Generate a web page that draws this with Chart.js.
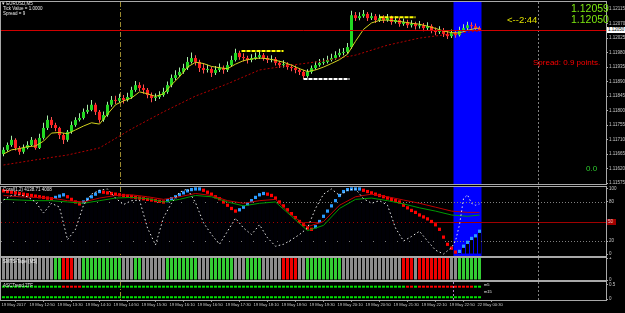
<!DOCTYPE html>
<html>
<head>
<meta charset="utf-8">
<title>EURUSD,M5</title>
<script src="https://cdn.jsdelivr.net/npm/chart.js@4.4.1/dist/chart.umd.min.js"></script>
<style>
  html, body { margin: 0; padding: 0; background: #000; }
  #wrap { position: relative; width: 625px; height: 313px; overflow: hidden; background: #000;
          font-family: "Liberation Sans", Arial, sans-serif; }
  #wrap canvas { position: absolute; left: 0; }
  .lbl { position: absolute; white-space: nowrap; line-height: 1; }
  .tag { position: absolute; left: 607px; width: 18px; height: 6px; font-size: 4.5px; line-height: 6px; padding-left: 1px; }
</style>
</head>
<body>
<div id="wrap">
  <canvas id="mainChart" width="625" height="186" style="top:0px"></canvas>
  <canvas id="oscChart" width="625" height="71" style="top:186px"></canvas>
  <canvas id="tapeChart" width="625" height="24" style="top:257px"></canvas>
  <canvas id="ascChart" width="625" height="32" style="top:281px"></canvas>

  <div class="lbl" style="left:2px;top:2.4px;font-size:4.5px;color:#e8e8e8">▾ EURUSD,M5</div>
  <div class="lbl" style="left:3px;top:7.4px;font-size:4.5px;color:#e8e8e8">Tick Value = 1.0000</div>
  <div class="lbl" style="left:3px;top:12.4px;font-size:4.5px;color:#e8e8e8">Spread = 9</div>

  <div class="lbl" style="left:571px;top:2.6px;font-size:10.5px;color:#7ce80f">1.12059</div>
  <div class="lbl" style="left:571px;top:14.4px;font-size:10.5px;color:#7ce80f">1.12050</div>
  <div class="lbl" style="left:507px;top:14.5px;font-size:9.5px;color:#e0e000">&lt;--2:44</div>
  <div class="lbl" style="left:533px;top:59px;font-size:8px;color:#ff0000">Spread: 0.9 points.</div>
  <div class="lbl" style="left:586px;top:165px;font-size:8px;color:#2ecc2e">0.0</div>

  <div class="lbl" style="left:3px;top:187.5px;font-size:4.5px;color:#e8e8e8">Coral(1,2) 4138.71 4008</div>
  <div class="lbl" style="left:3px;top:259.5px;font-size:4.5px;color:#f0f0f0">SMTS-Tape (M5)</div>
  <div class="lbl" style="left:3px;top:283.5px;font-size:4.5px;color:#e8e8e8">ASCTrend 2TF</div>
  <div class="lbl" style="left:484px;top:282.5px;font-size:4px;color:#e8e8e8">m5</div>
  <div class="lbl" style="left:484px;top:289.5px;font-size:4px;color:#e8e8e8">m15</div>

  <div class="tag" id="bidTag" style="top:26px;background:#ffffff;color:#000">1.12050</div>
  <div class="tag" id="midTag" style="top:219px;width:8px;background:#a00000;color:#ffc8c8">50</div>
</div>

<script>
// ---------- price data (EURUSD M5) ----------
const opens = [
  1.11665,1.11678,1.11693,1.11709,1.11684,1.11672,1.11684,1.11693,1.11709,1.11684,
  1.11715,1.11746,1.11771,1.11755,1.11746,1.11724,1.11709,1.11734,1.11755,1.11771,
  1.11777,1.11796,1.11802,1.11818,1.11796,1.11771,1.11786,1.11818,1.11833,1.11830,
  1.11839,1.11833,1.11842,1.11864,1.11879,1.11870,1.11864,1.11848,1.11839,1.11842,
  1.11848,1.11858,1.11879,1.11901,1.11910,1.11920,1.11932,1.11951,1.11963,1.11951,
  1.11932,1.11926,1.11929,1.11917,1.11926,1.11932,1.11926,1.11941,1.11957,1.11979,
  1.11966,1.11963,1.11957,1.11963,1.11966,1.11972,1.11963,1.11957,1.11960,1.11948,
  1.11941,1.11944,1.11935,1.11932,1.11926,1.11920,1.11907,1.11920,1.11932,1.11941,
  1.11948,1.11951,1.11957,1.11963,1.11972,1.11979,1.11982,1.11997,1.12096,1.12087,
  1.12093,1.12100,1.12087,1.12093,1.12081,1.12087,1.12081,1.12087,1.12075,1.12081,
  1.12069,1.12075,1.12065,1.12069,1.12062,1.12065,1.12056,1.12062,1.12050,1.12044,
  1.12050,1.12038,1.12031,1.12041,1.12034,1.12050,1.12056,1.12065,1.12062,1.12056
];
const highs = [
  1.11686,1.11701,1.11722,1.11714,1.11690,1.11695,1.11705,1.11718,1.11713,1.11728,
  1.11762,1.11785,1.11780,1.11762,1.11750,1.11730,1.11740,1.11766,1.11779,1.11792,
  1.11806,1.11818,1.11833,1.11824,1.11802,1.11797,1.11827,1.11845,1.11846,1.11852,
  1.11848,1.11855,1.11874,1.11892,1.11888,1.11881,1.11870,1.11856,1.11853,1.11860,
  1.11871,1.11890,1.11912,1.11925,1.11934,1.11945,1.11966,1.11980,1.11972,1.11958,
  1.11948,1.11942,1.11936,1.11938,1.11946,1.11940,1.11952,1.11970,1.11992,1.11986,
  1.11978,1.11970,1.11975,1.11980,1.11986,1.11979,1.11970,1.11972,1.11966,1.11955,
  1.11956,1.11950,1.11944,1.11940,1.11932,1.11926,1.11928,1.11940,1.11952,1.11960,
  1.11962,1.11970,1.11976,1.11984,1.11992,1.11994,1.12010,1.12110,1.12106,1.12105,
  1.12112,1.12106,1.12104,1.12100,1.12098,1.12096,1.12100,1.12094,1.12092,1.12088,
  1.12086,1.12082,1.12080,1.12076,1.12078,1.12072,1.12074,1.12068,1.12058,1.12062,
  1.12056,1.12046,1.12052,1.12050,1.12060,1.12068,1.12076,1.12074,1.12070,1.12062
];
const lows = [
  1.11658,1.11672,1.11688,1.11676,1.11663,1.11666,1.11680,1.11690,1.11678,1.11681,
  1.11710,1.11740,1.11746,1.11736,1.11712,1.11696,1.11703,1.11728,1.11750,1.11766,
  1.11772,1.11790,1.11798,1.11786,1.11762,1.11765,1.11781,1.11812,1.11820,1.11824,
  1.11822,1.11828,1.11837,1.11858,1.11861,1.11852,1.11838,1.11826,1.11830,1.11836,
  1.11843,1.11852,1.11872,1.11895,1.11904,1.11914,1.11926,1.11946,1.11940,1.11920,
  1.11915,1.11918,1.11904,1.11910,1.11920,1.11914,1.11920,1.11936,1.11952,1.11958,
  1.11952,1.11946,1.11950,1.11958,1.11960,1.11955,1.11948,1.11950,1.11940,1.11932,
  1.11934,1.11927,1.11922,1.11916,1.11910,1.11898,1.11902,1.11914,1.11927,1.11936,
  1.11942,1.11946,1.11952,1.11958,1.11966,1.11972,1.11976,1.11992,1.12078,1.12080,
  1.12088,1.12078,1.12081,1.12072,1.12075,1.12072,1.12076,1.12066,1.12070,1.12060,
  1.12063,1.12056,1.12058,1.12052,1.12055,1.12046,1.12050,1.12040,1.12034,1.12038,
  1.12028,1.12022,1.12025,1.12026,1.12030,1.12045,1.12050,1.12054,1.12048,1.12046
];
const closes = [
  1.11678,1.11693,1.11709,1.11684,1.11672,1.11684,1.11693,1.11709,1.11684,1.11715,
  1.11746,1.11771,1.11755,1.11746,1.11724,1.11709,1.11734,1.11755,1.11771,1.11777,
  1.11796,1.11802,1.11818,1.11796,1.11771,1.11786,1.11818,1.11833,1.11830,1.11839,
  1.11833,1.11842,1.11864,1.11879,1.11870,1.11864,1.11848,1.11839,1.11842,1.11848,
  1.11858,1.11879,1.11901,1.11910,1.11920,1.11932,1.11951,1.11963,1.11951,1.11932,
  1.11926,1.11929,1.11917,1.11926,1.11932,1.11926,1.11941,1.11957,1.11979,1.11966,
  1.11963,1.11957,1.11963,1.11966,1.11972,1.11963,1.11957,1.11960,1.11948,1.11941,
  1.11944,1.11935,1.11932,1.11926,1.11920,1.11907,1.11920,1.11932,1.11941,1.11948,
  1.11951,1.11957,1.11963,1.11972,1.11979,1.11982,1.11997,1.12096,1.12087,1.12093,
  1.12100,1.12087,1.12093,1.12081,1.12087,1.12081,1.12087,1.12075,1.12081,1.12069,
  1.12075,1.12065,1.12069,1.12062,1.12065,1.12056,1.12062,1.12050,1.12044,1.12050,
  1.12038,1.12031,1.12041,1.12034,1.12050,1.12056,1.12065,1.12062,1.12056,1.12050
];

// moving averages
const fastMaBars = [0,2,4,6,8,10,12,14,16,18,20,22,24,26,28,30,32,34,36,38,40,42,44,46,48,50,52,54,56,58,
  60,62,64,66,68,70,72,74,76,78,80,82,84,86,88,90,92,94,96,98,100,102,104,106,108,110,112,114,116,118,119];
const fastMa = [1.11665,1.11678,1.11682,1.11688,1.11690,1.11705,1.11730,1.11732,1.11728,1.11740,
  1.11752,1.11762,1.11758,1.11789,1.11818,1.11830,1.11839,1.11858,1.11852,1.11844,
  1.11852,1.11880,1.11905,1.11935,1.11950,1.11946,1.11937,1.11933,1.11930,1.11944,
  1.11955,1.11960,1.11963,1.11961,1.11956,1.11950,1.11941,1.11930,1.11921,1.11926,
  1.11935,1.11946,1.11958,1.11975,1.12015,1.12052,1.12072,1.12080,1.12081,1.12078,
  1.12075,1.12071,1.12068,1.12062,1.12055,1.12047,1.12042,1.12041,1.12049,1.12055,1.12056];
const slowMaBars = [0,8,16,24,32,40,48,56,64,72,80,88,96,104,112,119];
const slowMa = [1.11631,1.11647,1.11662,1.11684,1.11743,1.11796,1.11845,1.11883,1.11926,1.11941,
  1.11954,1.11972,1.12003,1.12025,1.12038,1.12047];

// support / resistance segments: [fromBar, toBar, price]
const yellowLevels = [[59.5, 70, 1.11985], [94, 103, 1.12090]];
const whiteLevels = [[75, 86.5, 1.11898]];

const bidPrice = 1.12050;
const priceTicks = [1.12115,1.12070,1.12025,1.11980,1.11935,1.11890,1.11845,1.11800,1.11755,1.11710,1.11665,1.11620,1.11575];

// ---------- oscillator panel ----------
const oscTicks = [0, 20, 50, 80, 100];
const whiteBars = [0,2,4,6,8,10,12,14,16,18,20,22,24,26,28,30,32,34,36,38,40,42,44,46,48,50,52,54,56,58,
  60,62,64,66,68,70,72,74,76,78,80,82,84,86,88,90,92,94,96,98,100,102,104,106,108,110,112,113,114,115,116,117,118,119];
const whiteOsc = [83,90,91,88,80,63,78,72,22,38,75,92,98,100,86,76,82,83,40,14,
  56,78,95,100,79,48,30,15,35,55,40,30,45,25,12,15,22,30,40,70,
  92,100,90,98,100,85,78,82,75,40,20,27,35,20,6,0,10,20,45,85,91,78,75,77];
const trendVals = [
  97,96,95,94,93,92,91,90,89,88,
  87,86,85,87,89,91,88,84,80,77,
  80,84,88,92,96,95,94,93,92,91,
  90,89,88,87,86,85,84,83,82,81,
  80,82,85,88,91,94,97,99,100,100,
  98,95,92,88,85,80,75,70,66,68,
  72,77,82,87,91,93,92,90,86,80,
  74,68,62,56,50,45,40,38,42,50,
  58,66,74,82,90,96,99,100,100,100,
  98,96,94,92,90,88,86,84,82,80,
  75,71,67,64,60,57,54,50,45,38,
  26,15,9,3,4,12,18,24,28,35
];
const signalBars = [0,4,8,12,16,20,24,28,32,36,40,44,48,52,56,60,64,68,72,76,80,84,88,92,96,100,104,108,112,116,119];
const signalRed = [90,88,87,86,82,80,86,90,91,88,84,88,93,90,82,78,82,84,60,42,50,75,88,92,88,83,78,72,66,64,64];
const signalGreen = [84,83,82,82,80,78,82,86,87,85,80,84,90,88,80,74,78,80,58,36,44,70,84,86,82,77,71,66,60,58,60];

// ---------- tape panel: 1 up, -1 down, 0 flat ----------
const tapeState = [
  0,0,0,0,0,0,0,0,0,0,
  0,0,0,1,1,-1,-1,-1,0,0,
  1,1,1,1,1,1,1,1,1,1,
  0,0,0,1,1,0,0,0,0,0,
  0,1,1,1,1,1,1,1,1,0,
  0,0,1,1,1,1,1,1,0,0,
  0,1,1,1,1,0,0,0,0,0,
  -1,-1,-1,-1,0,0,1,1,1,1,
  1,1,1,1,1,0,0,0,0,0,
  0,0,0,0,0,0,0,0,0,0,
  -1,-1,-1,0,-1,-1,-1,-1,-1,-1,
  -1,-1,0,0,1,1,1,1,1,1
];

// ---------- ASCTrend panel ----------
const ascM5 = [
  1,1,1,1,1,1,1,1,1,1,
  1,1,1,1,1,-1,-1,-1,-1,-1,
  1,1,1,1,1,1,1,1,1,1,
  1,1,1,1,1,1,1,1,1,1,
  1,1,1,1,1,1,1,1,1,1,
  1,1,1,1,1,1,1,1,1,1,
  1,1,1,1,1,1,1,1,1,1,
  1,1,1,1,1,1,1,1,1,1,
  1,1,1,1,1,1,1,1,1,1,
  1,1,1,1,1,1,1,1,1,1,
  1,-1,-1,1,-1,-1,-1,-1,-1,-1,
  -1,-1,-1,-1,-1,-1,-1,-1,1,1
];
const ascM15 = [
  1,1,1,1,1,1,1,1,1,1, 1,1,1,1,1,1,1,1,1,1, 1,1,1,1,1,1,1,1,1,1,
  1,1,1,1,1,1,1,1,1,1, 1,1,1,1,1,1,1,1,1,1, 1,1,1,1,1,1,1,1,1,1,
  1,1,1,1,1,1,1,1,1,1, 1,1,1,1,1,1,1,1,1,1, 1,1,1,1,1,1,1,1,1,1,
  1,1,1,1,1,1,1,1,1,1, 1,1,1,1,1,1,1,1,1,1, 1,1,1,1,1,1,1,1,1,1
];
const ascTicks = [0, 0.5];

// ---------- time axis ----------
const timeTickBars = [0,7,14,21,28,35,42,49,56,63,70,77,84,91,98,105,112,119];
const timeLabels = ['19 May 2017','19 May 12:50','19 May 13:30','19 May 14:10','19 May 14:50','19 May 15:30',
  '19 May 16:10','19 May 16:50','19 May 17:30','19 May 18:10','19 May 18:50','19 May 19:30',
  '19 May 20:10','19 May 20:50','19 May 21:30','19 May 22:10','19 May 22:50','22 May 00:30'];

// markers
const boxFirstBar = 113, boxLastBar = 119;
const sepBar = 29, cursorBar = 133.6;

// ---------- helpers ----------
Chart.defaults.font.family = '"Liberation Sans", Arial, sans-serif';
const xMin = -0.625, xMax = 150.625;
const idx = closes.map((c, i) => i);

function hiddenX() {
  return { type: 'linear', min: xMin, max: xMax, display: false, offset: false };
}

function rightAxis(min, max, ticks, fmt) {
  return {
    type: 'linear', position: 'right', min: min, max: max,
    border: { display: false },
    grid: { drawOnChartArea: false, drawTicks: true, tickLength: 2, color: '#b0b0b0' },
    ticks: { color: '#c8c8c8', font: { size: 4.5, lineHeight: 1 }, padding: 1, autoSkip: false, maxRotation: 0,
             callback: v => fmt(v) },
    afterBuildTicks: s => { s.ticks = ticks.map(v => ({ value: v })); },
    afterFit: s => { s.width = 19; s.paddingTop = 0; s.paddingBottom = 0; }
  };
}

function decor(cfg) {
  return {
    id: 'decor',
    beforeDatasetsDraw(chart) {
      const { ctx, chartArea: a } = chart;
      const x = chart.scales.x, y = chart.scales.y;
      ctx.save();
      ctx.beginPath(); ctx.rect(a.left, a.top, a.width, a.height); ctx.clip();
      if (cfg.box) {
        const l = x.getPixelForValue(boxFirstBar - 0.5), r = x.getPixelForValue(boxLastBar + 0.5);
        ctx.fillStyle = '#0000ff';
        ctx.fillRect(l, a.top, r - l, a.height);
      }
      (cfg.levels || []).forEach(h => {
        const py = Math.round(y.getPixelForValue(h.v)) + 0.5;
        ctx.strokeStyle = h.color; ctx.lineWidth = 1; ctx.setLineDash(h.dash || []);
        ctx.beginPath(); ctx.moveTo(a.left, py); ctx.lineTo(a.right, py); ctx.stroke();
      });
      (cfg.marks || []).forEach(m => {
        const px = Math.round(x.getPixelForValue(m.v)) + 0.5;
        ctx.strokeStyle = m.color; ctx.lineWidth = 1; ctx.setLineDash(m.dash || []);
        ctx.beginPath(); ctx.moveTo(px, a.top); ctx.lineTo(px, a.bottom); ctx.stroke();
      });
      ctx.restore();
    },
    afterDatasetsDraw(chart) {
      const { ctx, chartArea: a } = chart;
      const y = chart.scales.y;
      ctx.save();
      (cfg.topLevels || []).forEach(h => {
        const py = Math.round(y.getPixelForValue(h.v)) + 0.5;
        ctx.strokeStyle = h.color; ctx.lineWidth = 1;
        ctx.beginPath(); ctx.moveTo(a.left, py); ctx.lineTo(a.right, py); ctx.stroke();
      });
      ctx.restore();
    },
    afterDraw(chart) {
      const { ctx, chartArea: a } = chart;
      ctx.save();
      ctx.strokeStyle = '#a8a8a8'; ctx.lineWidth = 1;
      ctx.strokeRect(a.left - 0.5, a.top - 0.5, a.width + 1, a.height + 1);
      ctx.restore();
      (cfg.tags || []).forEach(t => {
        const el = document.getElementById(t.id);
        el.style.top = (chart.canvas.offsetTop + chart.scales.y.getPixelForValue(t.v) - 3) + 'px';
      });
    }
  };
}

function baseOptions(scales, pad) {
  return {
    responsive: false, animation: false, events: [],
    layout: { padding: { left: 1, right: 0, top: pad[0], bottom: pad[1] } },
    plugins: { legend: { display: false }, tooltip: { enabled: false } },
    scales: scales
  };
}

function lineSet(bars, vals, color, dash, order, width) {
  return {
    type: 'line', data: bars.map((b, k) => ({ x: b, y: vals[k] })),
    borderColor: color, borderWidth: width || 1, borderDash: dash || [],
    pointRadius: 0, tension: 0, fill: false, order: order
  };
}

function barSet(data, colors, thick, order, extra) {
  return Object.assign({
    type: 'bar', data: data, backgroundColor: colors, barThickness: thick,
    grouped: false, inflateAmount: 0, borderWidth: 0, order: order
  }, extra || {});
}

const sepMark = { v: sepBar, color: '#9a8a30', dash: [5, 2, 1, 2] };
const cursorMark = { v: cursorBar, color: '#808080', dash: [2, 2] };

// ---------- main price chart ----------
const bull = idx.map(i => closes[i] >= opens[i]);
const mainSets = [
  lineSet(fastMaBars, fastMa, '#d2d21e', [], 1),
  lineSet(slowMaBars, slowMa, '#b40000', [2, 2], 1),
  barSet(idx.map(i => ({ x: i, y: [opens[i], closes[i]] })), idx.map(i => bull[i] ? '#22d822' : '#ff2020'), 3, 2, { minBarLength: 1 }),
  barSet(idx.map(i => ({ x: i, y: [lows[i], highs[i]] })), idx.map(i => bull[i] ? '#a8eea8' : '#ff5050'), 1, 3)
];
yellowLevels.forEach(s => mainSets.push(lineSet([s[0], s[1]], [s[2], s[2]], '#ffff00', [4, 1], 0, 2)));
whiteLevels.forEach(s => mainSets.push(lineSet([s[0], s[1]], [s[2], s[2]], '#ffffff', [4, 1], 0, 2)));

new Chart(document.getElementById('mainChart'), {
  type: 'bar',
  data: { datasets: mainSets },
  options: baseOptions({ x: hiddenX(), y: rightAxis(1.11572, 1.12137, priceTicks, v => v.toFixed(5)) }, [2, 2]),
  plugins: [decor({ box: true, marks: [sepMark, cursorMark],
                    topLevels: [{ v: bidPrice, color: '#d00000' }], tags: [{ id: 'bidTag', v: bidPrice }] })]
});

// ---------- oscillator ----------
const trendUp = idx.map(i => i > 0 && trendVals[i] >= trendVals[i - 1]);
new Chart(document.getElementById('oscChart'), {
  type: 'bar',
  data: { datasets: [
    barSet(idx.map(i => ({ x: i, y: [0, trendVals[i]] })), '#000006', 3, 6),
    barSet(idx.map(i => ({ x: i, y: [trendVals[i] - 2.5, trendVals[i] + 2.5] })), idx.map(i => trendUp[i] ? '#2a9bff' : '#ff0000'), 3, 3),
    lineSet(signalBars, signalRed, '#c00000', [], 2),
    lineSet(signalBars, signalGreen, '#009a00', [], 2),
    lineSet(whiteBars, whiteOsc, '#e8e8e8', [1.5, 2.5], 1)
  ] },
  options: baseOptions({ x: hiddenX(), y: rightAxis(-3, 103, oscTicks, v => String(v)) }, [1, 1]),
  plugins: [decor({ box: true, marks: [sepMark, cursorMark],
                    levels: [{ v: 50, color: '#a00000' }, { v: 80, color: '#808080', dash: [1, 2] }, { v: 20, color: '#808080', dash: [1, 2] }],
                    tags: [{ id: 'midTag', v: 50 }] })]
});

// ---------- tape ----------
const tapeColor = { '1': '#33cc33', '-1': '#ee0000', '0': '#8c8c8c' };
new Chart(document.getElementById('tapeChart'), {
  type: 'bar',
  data: { datasets: [
    barSet(idx.map(i => ({ x: i, y: [0, 1] })), idx.map(i => tapeColor[tapeState[i]]), 3, 1)
  ] },
  options: baseOptions({ x: hiddenX(), y: rightAxis(0, 1, [0, 1], v => String(v)) }, [1, 1]),
  plugins: [decor({ marks: [sepMark, cursorMark] })]
});

// ---------- ASCTrend + time axis ----------
const ascColor = s => s > 0 ? '#00e000' : '#ff0000';
new Chart(document.getElementById('ascChart'), {
  type: 'bar',
  data: { datasets: [
    barSet(idx.map(i => ({ x: i, y: [0.40, 0.47] })), idx.map(i => ascColor(ascM5[i])), 3, 1),
    barSet(idx.map(i => ({ x: i, y: [0.03, 0.10] })), idx.map(i => ascColor(ascM15[i])), 3, 1)
  ] },
  options: baseOptions({
    x: {
      type: 'linear', min: xMin, max: xMax, position: 'bottom', offset: false,
      border: { display: false },
      grid: { drawOnChartArea: false, tickLength: 2, color: '#a0a0a0' },
      ticks: { color: '#c8c8c8', font: { size: 4.2, lineHeight: 1 }, padding: 1, align: 'start',
               autoSkip: false, maxRotation: 0, minRotation: 0, callback: (v, i) => timeLabels[i] },
      afterBuildTicks: s => { s.ticks = timeTickBars.map(b => ({ value: b - 0.5 })); },
      afterFit: s => { s.height = 12; s.paddingLeft = 0; s.paddingRight = 0; }
    },
    y: rightAxis(-0.033, 0.6, ascTicks, v => String(v))
  }, [1, 1]),
  plugins: [decor({ marks: [sepMark, cursorMark, { v: boxFirstBar - 0.5, color: '#b080c0', dash: [2, 2] }] })]
});
</script>
</body>
</html>
